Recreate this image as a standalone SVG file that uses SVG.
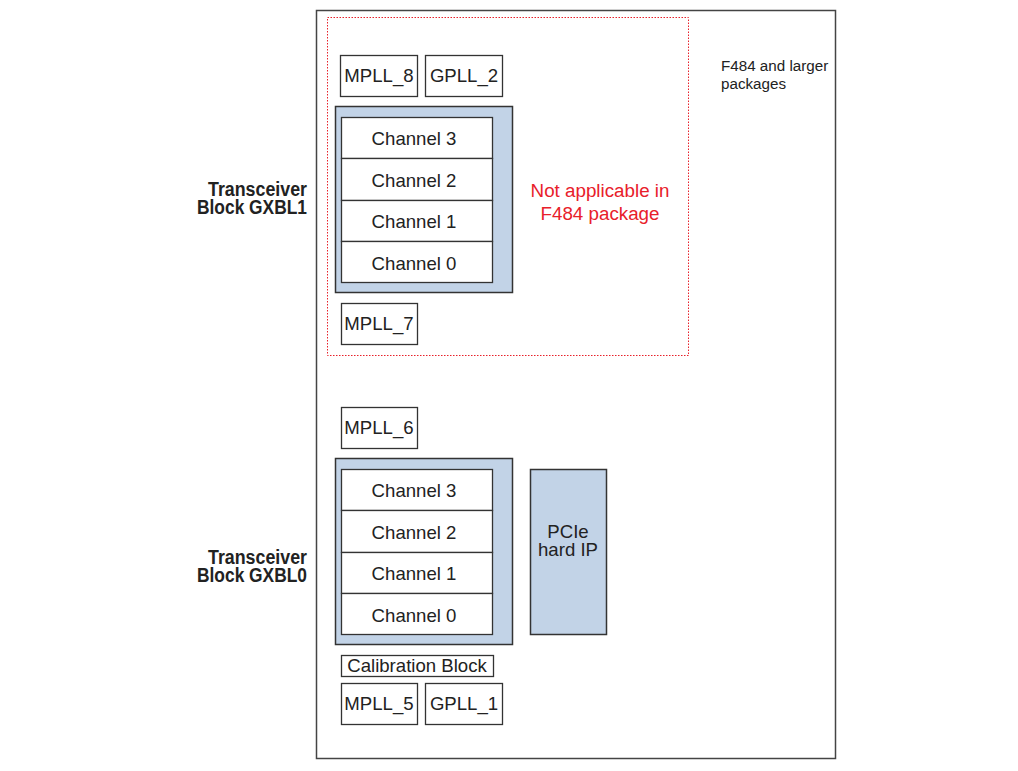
<svg xmlns="http://www.w3.org/2000/svg" width="1018" height="771" viewBox="0 0 1018 771">
<style>
.box{fill:#fff;stroke:#333;stroke-width:1.3}
.blk{fill:#c2d3e7;stroke:#333;stroke-width:1.5}
.t{font-family:"Liberation Sans",Arial,sans-serif;font-size:18.6px;fill:#222;text-anchor:middle}
.lbl{font-family:"Liberation Sans",Arial,sans-serif;font-weight:bold;font-size:20px;fill:#222;text-anchor:end}
.red{font-family:"Liberation Sans",Arial,sans-serif;font-size:18.8px;fill:#e8202a;text-anchor:middle}
.note{font-family:"Liberation Sans",Arial,sans-serif;font-size:15.2px;fill:#222}
</style>
<rect x="0" y="0" width="1018" height="771" fill="#fff"/>
<g id="device"><rect x="316.5" y="10.5" width="519" height="748" fill="none" stroke="#444" stroke-width="1.5"/></g>
<g id="f484-region"><rect x="327.5" y="17.5" width="361" height="338" fill="none" stroke="#e8202a" stroke-width="1" stroke-dasharray="1.5,1.5"/>
<text class="red" x="600" y="197">Not applicable in</text><text class="red" x="600" y="220">F484 package</text></g>
<g id="note"><text class="note" x="721" y="71">F484 and larger</text><text class="note" x="721" y="89">packages</text></g>
<g id="label-gxbl1"><text class="lbl" x="307" y="196" textLength="99" lengthAdjust="spacingAndGlyphs">Transceiver</text><text class="lbl" x="307" y="214" textLength="110" lengthAdjust="spacingAndGlyphs">Block GXBL1</text></g>
<g id="label-gxbl0"><text class="lbl" x="307" y="564" textLength="99" lengthAdjust="spacingAndGlyphs">Transceiver</text><text class="lbl" x="307" y="582" textLength="110" lengthAdjust="spacingAndGlyphs">Block GXBL0</text></g>
<g id="mpll8"><rect class="box" x="340.5" y="55.5" width="77" height="41"/><text class="t" x="379" y="82">MPLL_8</text></g>
<g id="gpll2"><rect class="box" x="425.5" y="55.5" width="77" height="41"/><text class="t" x="464" y="82">GPLL_2</text></g>
<g id="gxbl1"><rect class="blk" x="335.5" y="106.5" width="177" height="186"/>
<rect class="box" x="341.5" y="117.5" width="151" height="41"/><text class="t" x="414" y="145">Channel 3</text>
<rect class="box" x="341.5" y="158.5" width="151" height="42"/><text class="t" x="414" y="187">Channel 2</text>
<rect class="box" x="341.5" y="200.5" width="151" height="41"/><text class="t" x="414" y="228">Channel 1</text>
<rect class="box" x="341.5" y="241.5" width="151" height="41"/><text class="t" x="414" y="270">Channel 0</text></g>
<g id="mpll7"><rect class="box" x="341.5" y="303.5" width="76" height="41"/><text class="t" x="379" y="330">MPLL_7</text></g>
<g id="mpll6"><rect class="box" x="341.5" y="407.5" width="76" height="41"/><text class="t" x="379" y="434">MPLL_6</text></g>
<g id="gxbl0"><rect class="blk" x="335.5" y="458.5" width="177" height="186"/>
<rect class="box" x="341.5" y="469.5" width="151" height="41"/><text class="t" x="414" y="497">Channel 3</text>
<rect class="box" x="341.5" y="510.5" width="151" height="42"/><text class="t" x="414" y="539">Channel 2</text>
<rect class="box" x="341.5" y="552.5" width="151" height="41"/><text class="t" x="414" y="580">Channel 1</text>
<rect class="box" x="341.5" y="593.5" width="151" height="41"/><text class="t" x="414" y="622">Channel 0</text></g>
<g id="pcie"><rect class="blk" x="530.5" y="469.5" width="76" height="165" stroke-width="1.3"/><text class="t" x="568" y="538">PCIe</text><text class="t" x="568" y="556">hard IP</text></g>
<g id="calibration"><rect class="box" x="341.5" y="655.5" width="152" height="21"/><text class="t" x="417" y="672">Calibration Block</text></g>
<g id="mpll5"><rect class="box" x="341.5" y="683.5" width="76" height="41"/><text class="t" x="379" y="710">MPLL_5</text></g>
<g id="gpll1"><rect class="box" x="425.5" y="683.5" width="77" height="41"/><text class="t" x="464" y="710">GPLL_1</text></g>
<g id="connectors"></g>
</svg>
